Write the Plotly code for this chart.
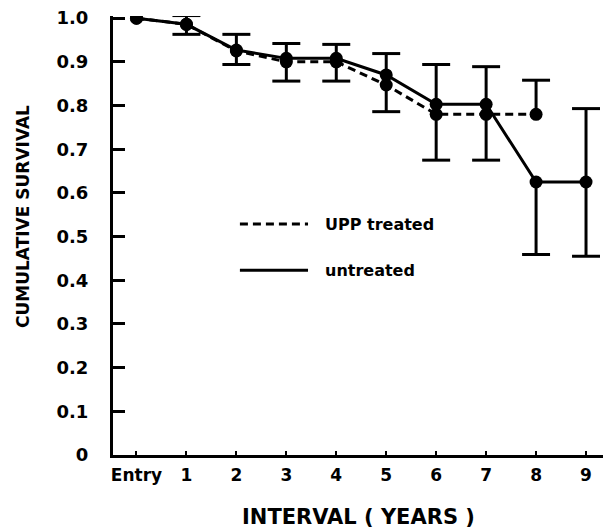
import plotly.graph_objects as go

# Life-table intervals (x positions 0..9, first one labelled "Entry")
interval_pos = [0, 1, 2, 3, 4, 5, 6, 7, 8, 9]
interval_labels = ["Entry", "1", "2", "3", "4", "5", "6", "7", "8", "9"]

# Cumulative survival per interval
untreated = [1.0, 0.986, 0.927, 0.908, 0.908, 0.870, 0.803, 0.803, 0.625, 0.625]
upp_treated = [1.0, 0.986, 0.925, 0.900, 0.900, 0.847, 0.780, 0.780, 0.780]

# Confidence limits drawn as whiskers (interval, low, high)
whisker_pos = [1, 2, 3, 4, 5, 6, 7, 8, 8, 9]
whisker_low = [0.963, 0.894, 0.856, 0.856, 0.786, 0.675, 0.675, 0.780, 0.459, 0.455]
whisker_high = [1.006, 0.963, 0.942, 0.940, 0.919, 0.894, 0.889, 0.858, 0.625, 0.793]
# which end of each whisker carries a cap
cap_low = [True, True, True, True, True, True, True, False, True, True]
cap_high = [True, True, True, True, True, True, True, True, False, True]

y_ticks = [0, 0.1, 0.2, 0.3, 0.4, 0.5, 0.6, 0.7, 0.8, 0.9, 1.0]
y_tick_text = ["0", "0.1", "0.2", "0.3", "0.4", "0.5", "0.6", "0.7", "0.8", "0.9", "1.0"]

FONT = "DejaVu Sans"
CAP = 0.28  # half cap width in x units

wx, wy = [], []
for x, lo, hi, cl, ch in zip(whisker_pos, whisker_low, whisker_high, cap_low, cap_high):
    wx += [x, x, None]
    wy += [lo, hi, None]
    if cl:
        wx += [x - CAP, x + CAP, None]
        wy += [lo, lo, None]
    if ch:
        wx += [x - CAP, x + CAP, None]
        wy += [hi, hi, None]

fig = go.Figure()
fig.add_trace(go.Scatter(x=wx, y=wy, mode="lines",
                         line=dict(color="black", width=3),
                         hoverinfo="skip", showlegend=False))
fig.add_trace(go.Scatter(x=interval_pos[:len(upp_treated)], y=upp_treated,
                         mode="lines+markers", name="UPP treated",
                         line=dict(color="black", width=3, dash="8px,5px"),
                         marker=dict(color="black", size=13),
                         showlegend=False))
fig.add_trace(go.Scatter(x=interval_pos, y=untreated,
                         mode="lines+markers", name="untreated",
                         line=dict(color="black", width=3),
                         marker=dict(color="black", size=13),
                         showlegend=False))

# Legend keys
fig.add_shape(type="line", xref="paper", yref="paper", x0=0.259, x1=0.398,
              y0=0.526, y1=0.526, line=dict(color="black", width=3, dash="8px,5px"))
fig.add_shape(type="line", xref="paper", yref="paper", x0=0.259, x1=0.398,
              y0=0.421, y1=0.421, line=dict(color="black", width=3))
fig.add_annotation(text="<b>UPP treated</b>", xref="paper", yref="paper",
                   x=0.4286, y=0.526, xanchor="left", yanchor="middle",
                   showarrow=False, font=dict(family=FONT, size=16, color="black"))
fig.add_annotation(text="<b>untreated</b>", xref="paper", yref="paper",
                   x=0.4286, y=0.421, xanchor="left", yanchor="middle",
                   showarrow=False, font=dict(family=FONT, size=16, color="black"))

# Axis titles
fig.add_annotation(text="<b>INTERVAL ( YEARS )</b>", xref="paper", yref="paper",
                   x=0.5, y=-0.141, xanchor="center", yanchor="middle",
                   showarrow=False, font=dict(family=FONT, size=21, color="black"))
fig.add_annotation(text="<b>CUMULATIVE SURVIVAL</b>", xref="paper", yref="paper",
                   x=-0.185, y=0.543, xanchor="center", yanchor="middle", textangle=-90,
                   showarrow=False, font=dict(family=FONT, size=17, color="black"))

fig.update_layout(
    width=603, height=529,
    margin=dict(l=113, r=0, t=16, b=74),
    paper_bgcolor="white", plot_bgcolor="white",
    font=dict(family=FONT, color="black"),
    showlegend=False,
)
fig.update_xaxes(range=[-0.47, 9.34], tickvals=interval_pos,
                 ticktext=[f"<b>{t}</b>" for t in interval_labels],
                 tickfont=dict(family=FONT, size=17, color="black"),
                 showgrid=False, zeroline=False, showline=True,
                 linecolor="black", linewidth=3,
                 ticks="inside", ticklen=4, tickwidth=2, tickcolor="black",
                 ticklabelstandoff=3)
fig.update_yaxes(range=[0, 1.005], tickvals=y_ticks,
                 ticktext=[f"<b>{t}</b>" for t in y_tick_text],
                 tickfont=dict(family=FONT, size=18, color="black"),
                 showgrid=False, zeroline=False, showline=True,
                 linecolor="black", linewidth=3,
                 ticks="inside", ticklen=12, tickwidth=3, tickcolor="black",
                 ticklabelstandoff=18)

fig.write_html("out.html")
